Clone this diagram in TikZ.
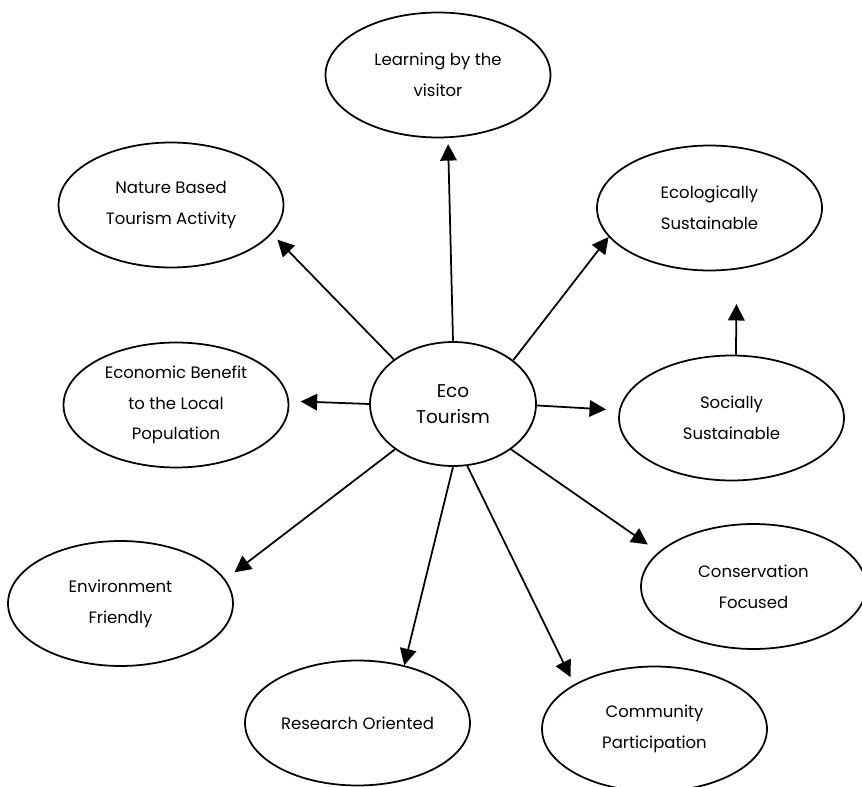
\documentclass[tikz,border=0pt]{standalone}
\usepackage{fontspec}
\setmainfont{Poppins}
\usetikzlibrary{shapes.geometric,arrows.meta}

\begin{document}
\begin{tikzpicture}[x=0.02cm, y=-0.02cm,
    idea/.style={draw, ellipse, line width=1pt, minimum width=4.5cm, minimum height=2.5cm,
        inner sep=0pt, align=center, font=\fontsize{9.4}{17.5}\selectfont},
    hub/.style={idea, minimum width=3.32cm, minimum height=2.48cm, font=\fontsize{10.5}{14.7}\selectfont},
    link/.style={line width=1pt, -{Triangle[length=0.33cm, width=0.33cm]}}]
    \useasboundingbox (0,0) rectangle (862,787);

    % Centre
    \node[hub] (eco) at (453,404) {Eco\\Tourism};

    % Outer ellipses
    \node[idea] (learning) at (438,75) {Learning by the\\visitor};
    \node[idea] (nature) at (171,205) {Nature Based\\Tourism Activity};
    \node[idea] (ecological) at (709.5,208) {Ecologically\\Sustainable};
    \node[idea] (economic) at (176,405) {Economic Benefit\\to the Local\\Population};
    \node[idea] (social) at (731.5,418) {Socially\\Sustainable};
    \node[idea] (environment) at (120.5,603.5) {Environment\\Friendly};
    \node[idea] (conservation) at (753.5,586.5) {Conservation\\Focused};
    \node[idea] (research) at (357.5,723) {Research Oriented};
    \node[idea] (community) at (654.5,729) {Community\\Participation};

    % Arrows
    \draw[link, shorten >=0.12cm] (eco.90) -- (learning.-81.6);
    \draw[link, shorten >=0.16cm] (eco.143.7) -- (nature.-16.6);
    \draw[link] (eco.36.3) -- (ecological.196.9);
    \draw[link, shorten >=0.23cm] (eco.180) -- (economic.2);
    \draw[link, shorten >=0.26cm] (eco.-1) -- (social.176.8);
    \draw[link, shorten >=0.26cm] (eco.-38) -- (conservation.160.8);
    \draw[link, shorten >=0.16cm] (eco.-77) -- (community.151);
    \draw[link] (eco.-90) -- (research.51.6);
    \draw[link, shorten >=0.23cm] (eco.-142) -- (environment.13.5);
    \draw[link, shorten >=0.69cm] (social.86) -- (ecological.-66.4);
\end{tikzpicture}
\end{document}
